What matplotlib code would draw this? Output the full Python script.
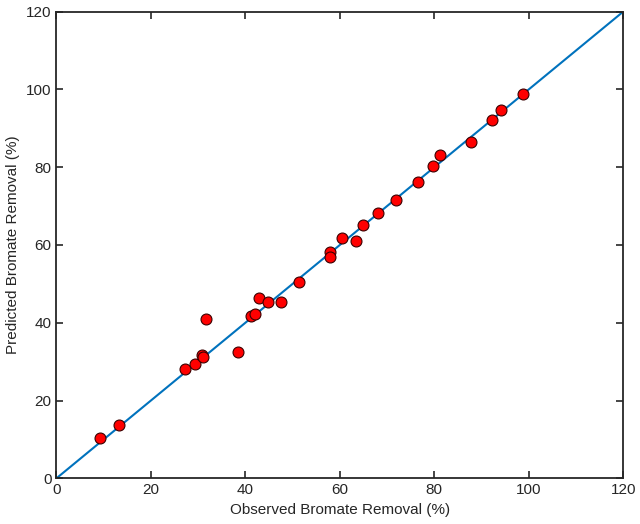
import numpy as np
import matplotlib.pyplot as plt

plt.rcParams['font.family'] = ['Liberation Sans', 'DejaVu Sans']

# observed vs predicted bromate removal (%)
observed = [9.3, 13.3, 27.3, 29.4, 30.8, 31.0, 31.7, 38.5, 41.2, 42.0,
            42.9, 44.9, 47.6, 51.3, 57.9, 57.9, 60.5, 63.5, 64.9, 68.1,
            71.8, 76.5, 79.8, 81.2, 87.7, 92.2, 94.2, 98.8]
predicted = [10.3, 13.6, 28.0, 29.5, 31.8, 31.2, 40.9, 32.6, 41.7, 42.2,
             46.4, 45.3, 45.3, 50.6, 58.1, 56.8, 61.7, 60.9, 65.1, 68.3,
             71.6, 76.3, 80.2, 83.1, 86.4, 92.2, 94.6, 98.9]
ticks = [0, 20, 40, 60, 80, 100, 120]

fig = plt.figure(figsize=(6.4, 5.24), dpi=100)
ax = fig.add_axes([0.088, 0.087, 0.886, 0.891])

ax.plot([0, 120], [0, 120], color='#0072BD', linewidth=1.5, zorder=1)
ax.scatter(observed, predicted, s=62, c='#FF0000', edgecolors='#3a0000',
           linewidths=0.8, zorder=2)

ax.set_xlim(0, 120)
ax.set_ylim(0, 120)
ax.set_xticks(ticks)
ax.set_yticks(ticks)
ax.tick_params(direction='in', length=5, width=1.2, top=True, right=True,
               labelsize=11, colors='#262626', labelcolor='#262626')
for sp in ax.spines.values():
    sp.set_linewidth(1.3)
    sp.set_color('#262626')

ax.set_xlabel('Observed Bromate Removal (%)', fontsize=11, color='#262626')
ax.set_ylabel('Predicted Bromate Removal (%)', fontsize=11, color='#262626')

fig.savefig('out.png', dpi=100)
